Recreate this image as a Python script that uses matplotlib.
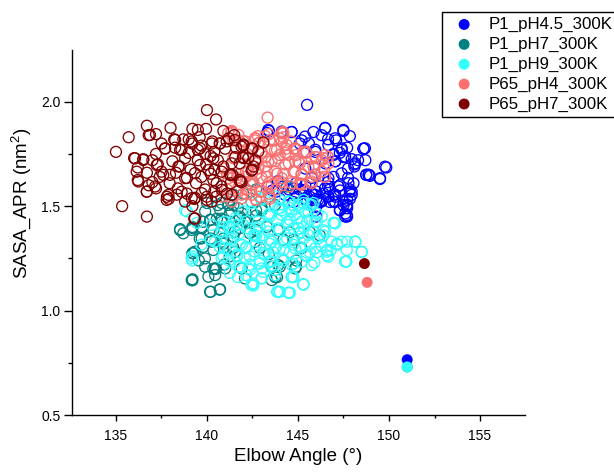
import matplotlib
matplotlib.use("Agg")
import matplotlib.pyplot as plt
from matplotlib.ticker import MultipleLocator

plt.rcParams["font.family"] = ["Liberation Sans", "DejaVu Sans"]
plt.rcParams["mathtext.fontset"] = "custom"
plt.rcParams["mathtext.rm"] = "Liberation Sans"
plt.rcParams["mathtext.it"] = "Liberation Sans:italic"

# ---- data: (elbow angle in degrees, SASA_APR in nm^2) per frame ----
p1_ph45_pts = [
    (145.5, 1.985), (143.4, 1.86), (144.65, 1.855), (145.85, 1.855), (146.5, 1.875),
    (146.3, 1.84), (146.65, 1.82), (147.1, 1.815), (147.5, 1.86), (147.85, 1.835),
    (145.2, 1.815), (145.6, 1.80), (145.95, 1.77), (147.4, 1.77), (147.7, 1.78),
    (148.6, 1.775), (147.5, 1.735), (147.95, 1.725), (148.3, 1.72), (148.7, 1.72),
    (148.1, 1.70), (147.05, 1.715), (146.95, 1.75), (146.5, 1.705), (147.75, 1.68),
    (149.85, 1.685), (148.75, 1.65), (148.9, 1.65), (149.5, 1.63), (146.95, 1.64),
    (147.75, 1.635), (145.4, 1.68), (145.75, 1.635), (145.4, 1.60), (146.2, 1.595),
    (146.65, 1.615), (147.3, 1.60), (147.85, 1.57), (147.05, 1.555), (146.4, 1.56),
    (145.75, 1.56), (145.1, 1.58), (144.75, 1.52), (145.5, 1.52), (146.1, 1.53),
    (146.75, 1.52), (147.5, 1.52), (147.3, 1.575), (147.95, 1.57), (147.7, 1.53),
    (147.7, 1.49), (147.6, 1.45), (146.95, 1.555), (146.65, 1.595), (146.0, 1.535),
    (146.0, 1.495), (145.5, 1.53), (144.95, 1.545), (144.5, 1.58), (144.0, 1.535),
    (143.3, 1.85), (144.65, 1.855), (145.1, 1.80), (145.45, 1.76), (145.95, 1.76),
    (146.95, 1.745), (147.3, 1.755), (147.05, 1.715), (148.1, 1.69), (148.6, 1.775),
    (148.75, 1.65), (148.95, 1.645), (147.7, 1.50), (147.7, 1.45), (147.3, 1.48),
    (146.3, 1.53), (145.65, 1.545), (145.95, 1.48), (146.0, 1.45), (147.05, 1.52),
    (147.85, 1.535), (144.9, 1.61), (145.3, 1.57), (146.0, 1.57), (146.75, 1.58),
    (147.05, 1.545), (146.2, 1.52), (147.5, 1.505), (147.6, 1.465), (147.85, 1.58),
    (148.05, 1.61), (144.75, 1.585), (144.2, 1.595), (143.6, 1.575), (143.9, 1.62),
    (143.37, 1.865), (144.11, 1.857), (145.39, 1.833), (146.49, 1.873), (147.04, 1.825),
    (147.49, 1.865), (148.68, 1.777), (149.78, 1.689), (149.51, 1.634), (148.87, 1.65),
    (148.14, 1.705), (147.59, 1.737), (147.4, 1.657), (147.77, 1.61), (147.95, 1.554),
    (147.68, 1.506), (147.68, 1.458), (147.31, 1.482), (146.95, 1.522), (146.49, 1.586),
    (146.67, 1.546), (145.94, 1.554), (146.3, 1.522), (145.75, 1.506), (145.39, 1.538),
    (145.39, 1.578), (144.84, 1.554), (144.29, 1.554), (143.83, 1.57), (143.37, 1.594),
    (146.67, 1.634), (145.94, 1.65), (147.22, 1.594), (147.4, 1.777), (146.67, 1.793),
]

p1_ph7_pts = [
    (138.52, 1.39), (138.7, 1.37), (139.2, 1.395), (139.7, 1.40), (139.9, 1.475),
    (140.6, 1.505), (140.2, 1.435), (140.8, 1.425), (139.6, 1.345), (140.2, 1.345),
    (140.7, 1.37), (141.25, 1.40), (139.8, 1.305), (140.35, 1.29), (140.9, 1.32),
    (141.45, 1.355), (139.2, 1.275), (139.55, 1.24), (139.9, 1.21), (140.5, 1.20),
    (140.95, 1.22), (140.45, 1.17), (141.25, 1.26), (141.45, 1.30), (139.2, 1.145),
    (140.2, 1.09), (140.7, 1.10), (141.8, 1.395), (141.8, 1.44), (141.25, 1.465),
    (141.45, 1.505), (140.0, 1.515), (140.9, 1.345), (138.52, 1.385), (139.25, 1.275),
    (140.35, 1.20), (139.2, 1.15), (140.55, 1.44), (141.35, 1.475), (141.8, 1.45),
    (142.15, 1.435), (142.7, 1.48), (143.0, 1.49), (142.35, 1.37), (143.3, 1.40),
    (143.9, 1.385), (144.2, 1.34), (143.55, 1.21), (143.85, 1.16), (144.2, 1.24),
    (144.9, 1.24), (144.75, 1.34), (144.55, 1.375), (142.0, 1.56), (141.45, 1.555),
    (140.8, 1.515), (142.7, 1.58), (141.25, 1.53), (143.0, 1.48), (142.7, 1.455),
    (144.0, 1.21), (143.75, 1.16), (144.9, 1.21), (145.65, 1.375), (146.2, 1.36),
    (139.2, 1.40), (139.8, 1.425), (140.35, 1.385), (140.8, 1.44), (141.7, 1.49),
    (142.45, 1.52), (142.1, 1.425), (142.7, 1.385), (142.9, 1.30), (143.4, 1.27),
    (139.16, 1.386), (139.71, 1.394), (140.17, 1.434), (140.72, 1.482), (141.18, 1.506),
    (141.91, 1.466), (142.27, 1.426), (143.01, 1.49), (143.74, 1.506), (144.84, 1.562),
    (144.38, 1.594), (142.46, 1.618), (139.71, 1.346), (140.26, 1.33), (140.81, 1.33),
    (139.34, 1.282), (139.89, 1.25), (140.44, 1.202), (140.08, 1.162), (141.0, 1.202),
    (139.16, 1.146), (140.17, 1.09), (140.72, 1.102), (141.54, 1.282), (141.91, 1.202),
    (142.09, 1.154), (143.56, 1.146), (143.92, 1.218), (142.64, 1.33), (141.54, 1.378),
    (145.2, 1.298), (144.84, 1.202),
]

p1_ph9_pts = [
    (148.15, 1.33), (147.7, 1.33), (147.15, 1.315), (147.65, 1.235), (146.8, 1.29),
    (146.6, 1.265), (146.05, 1.28), (145.65, 1.32), (145.3, 1.345), (144.75, 1.315),
    (144.2, 1.29), (143.65, 1.28), (143.1, 1.275), (142.7, 1.315), (143.45, 1.32),
    (144.4, 1.345), (145.1, 1.375), (145.85, 1.375), (146.4, 1.36), (147.0, 1.42),
    (146.05, 1.425), (145.5, 1.425), (144.95, 1.44), (144.4, 1.425), (143.85, 1.435),
    (143.3, 1.41), (142.7, 1.395), (143.1, 1.36), (144.0, 1.385), (144.75, 1.395),
    (145.4, 1.475), (145.65, 1.505), (145.1, 1.495), (144.55, 1.49), (144.0, 1.49),
    (143.45, 1.465), (144.55, 1.52), (144.0, 1.53), (145.3, 1.53), (142.9, 1.24),
    (143.45, 1.235), (144.2, 1.24), (144.75, 1.225), (145.5, 1.26), (143.1, 1.185),
    (143.75, 1.195), (142.45, 1.125), (143.0, 1.155), (144.65, 1.16), (145.3, 1.125),
    (143.85, 1.09), (144.5, 1.085), (142.45, 1.515), (143.0, 1.53), (138.9, 1.475),
    (139.45, 1.42), (140.2, 1.34), (139.7, 1.315), (139.2, 1.24), (140.7, 1.305),
    (140.9, 1.40), (141.1, 1.34), (141.35, 1.375), (141.65, 1.435), (142.0, 1.475),
    (141.2, 1.29), (141.65, 1.26), (141.8, 1.21), (142.15, 1.305), (142.35, 1.195),
    (142.55, 1.13), (142.35, 1.26), (142.7, 1.355), (144.0, 1.09), (144.55, 1.085),
    (145.3, 1.125), (147.65, 1.235), (148.15, 1.33), (148.5, 1.28), (147.15, 1.32),
    (146.6, 1.29), (146.95, 1.42), (146.4, 1.385), (145.65, 1.28), (144.75, 1.16),
    (143.65, 1.21), (144.1, 1.48), (144.75, 1.505), (145.3, 1.515), (145.85, 1.515),
    (146.05, 1.465), (145.65, 1.435), (143.45, 1.45), (142.9, 1.40), (143.45, 1.34),
    (143.8, 1.305), (144.55, 1.28), (145.1, 1.305), (145.1, 1.37), (144.55, 1.435),
    (145.3, 1.40), (146.05, 1.355), (143.1, 1.275), (142.9, 1.225), (141.7, 1.16),
    (141.25, 1.18), (138.8, 1.48), (139.2, 1.26), (140.9, 1.26), (141.2, 1.24),
    (140.95, 1.425), (141.25, 1.395), (141.65, 1.41), (142.0, 1.41), (141.8, 1.32),
    (141.65, 1.265), (142.15, 1.30), (141.8, 1.21), (142.35, 1.22), (142.15, 1.17),
    (142.55, 1.12), (142.55, 1.36), (141.35, 1.345), (146.3, 1.31), (145.9, 1.23),
    (141.18, 1.402), (141.73, 1.362), (142.27, 1.394), (142.82, 1.426), (143.37, 1.458),
    (143.92, 1.49), (144.47, 1.522), (145.02, 1.506), (145.57, 1.474), (145.94, 1.426),
    (146.49, 1.378), (147.04, 1.418), (147.4, 1.33), (148.14, 1.33), (148.5, 1.282),
    (147.59, 1.234), (146.67, 1.258), (145.94, 1.298), (145.39, 1.266), (144.84, 1.298),
    (144.29, 1.33), (143.74, 1.298), (143.19, 1.266), (142.64, 1.282), (142.09, 1.25),
    (141.54, 1.234), (141.0, 1.298), (140.81, 1.25), (140.44, 1.33), (140.26, 1.41),
    (140.81, 1.378), (139.16, 1.25), (142.27, 1.202), (143.01, 1.202), (143.56, 1.234),
    (144.11, 1.25), (144.66, 1.218), (145.2, 1.234), (145.75, 1.218), (143.74, 1.17),
    (143.01, 1.154), (142.46, 1.122), (143.92, 1.09), (144.47, 1.086), (145.29, 1.126),
    (144.66, 1.162), (143.37, 1.378), (143.92, 1.394), (144.47, 1.41), (145.02, 1.394),
    (145.57, 1.362), (146.12, 1.346), (143.01, 1.346), (143.56, 1.33), (144.11, 1.458),
    (144.84, 1.458), (145.2, 1.426), (142.64, 1.362), (141.91, 1.314), (141.54, 1.442),
    (142.46, 1.474), (143.01, 1.538), (143.74, 1.546), (144.66, 1.474), (145.75, 1.506),
    (146.3, 1.45), (146.85, 1.33), (147.68, 1.29), (146.58, 1.282),
]

p65_ph4_pts = [
    (143.33, 1.924), (143.4, 1.845), (144.15, 1.855), (144.2, 1.83), (142.65, 1.825),
    (142.9, 1.805), (143.65, 1.815), (142.1, 1.81), (144.35, 1.775), (144.8, 1.775),
    (144.9, 1.745), (145.45, 1.755), (146.0, 1.735), (146.65, 1.735), (146.3, 1.72),
    (143.55, 1.77), (144.0, 1.745), (143.2, 1.735), (143.55, 1.715), (144.5, 1.705),
    (145.1, 1.705), (145.9, 1.68), (146.45, 1.68), (146.45, 1.64), (145.75, 1.64),
    (145.2, 1.655), (144.75, 1.665), (144.2, 1.655), (143.3, 1.665), (142.7, 1.655),
    (142.15, 1.665), (142.55, 1.615), (143.4, 1.61), (144.1, 1.60), (145.1, 1.605),
    (145.75, 1.61), (142.15, 1.58), (142.9, 1.57), (143.45, 1.545), (142.7, 1.53),
    (141.17, 1.85), (141.45, 1.815), (142.0, 1.81), (142.35, 1.775), (142.8, 1.80),
    (143.45, 1.815), (141.45, 1.73), (141.1, 1.655), (141.65, 1.635), (142.35, 1.61),
    (142.15, 1.56), (141.35, 1.545), (141.7, 1.585), (143.4, 1.56), (143.45, 1.535),
    (142.9, 1.545), (144.1, 1.615), (144.55, 1.595), (145.1, 1.61), (145.95, 1.65),
    (146.5, 1.64), (145.85, 1.69), (146.4, 1.73), (145.95, 1.735), (145.45, 1.76),
    (144.9, 1.77), (144.3, 1.755), (143.85, 1.77), (143.75, 1.715), (144.3, 1.70),
    (144.85, 1.715), (143.2, 1.69), (142.65, 1.715), (143.3, 1.64), (143.85, 1.655),
    (143.3, 1.595), (144.2, 1.85), (144.0, 1.825), (143.2, 1.835), (142.8, 1.835),
    (141.35, 1.85), (142.65, 1.815), (142.7, 1.705), (141.9, 1.555), (142.15, 1.58),
    (142.7, 1.53), (141.1, 1.58), (141.45, 1.64), (141.35, 1.86), (141.8, 1.81),
    (142.15, 1.64), (143.0, 1.76), (142.2, 1.75), (144.6, 1.81), (143.8, 1.58),
    (141.36, 1.857), (141.73, 1.841), (142.64, 1.825), (144.11, 1.849), (144.11, 1.809),
    (144.84, 1.777), (145.29, 1.761), (145.75, 1.729), (146.49, 1.745), (146.67, 1.705),
    (146.3, 1.665), (145.75, 1.618), (145.2, 1.602), (144.66, 1.61), (144.11, 1.634),
    (143.56, 1.602), (143.01, 1.57), (142.46, 1.554), (141.91, 1.538), (141.36, 1.522),
    (140.81, 1.546), (140.9, 1.681), (141.18, 1.634), (141.73, 1.65), (142.27, 1.665),
    (142.82, 1.681), (143.37, 1.713), (143.92, 1.729), (144.47, 1.745), (145.02, 1.713),
    (145.57, 1.689), (143.74, 1.665), (144.84, 1.665), (145.2, 1.65), (143.01, 1.634),
    (142.46, 1.602), (141.73, 1.57), (142.09, 1.745), (141.54, 1.729), (143.01, 1.753),
    (143.74, 1.769), (144.38, 1.793),
]

p65_ph7_pts = [
    (140.0, 1.96), (140.5, 1.915), (136.7, 1.885), (138.0, 1.875), (135.7, 1.83),
    (136.8, 1.84), (137.2, 1.845), (139.2, 1.87), (139.5, 1.865), (139.95, 1.87),
    (138.2, 1.82), (138.7, 1.82), (139.2, 1.80), (139.6, 1.83), (140.3, 1.81),
    (140.7, 1.80), (141.2, 1.825), (141.5, 1.84), (142.0, 1.795), (136.0, 1.73),
    (136.5, 1.725), (137.2, 1.75), (137.7, 1.775), (138.25, 1.78), (138.6, 1.77),
    (139.0, 1.755), (139.5, 1.77), (139.9, 1.75), (140.4, 1.76), (141.0, 1.775),
    (141.55, 1.735), (141.97, 1.735), (136.2, 1.685), (136.7, 1.66), (137.3, 1.70),
    (137.6, 1.65), (138.1, 1.715), (138.5, 1.69), (139.1, 1.675), (139.5, 1.72),
    (139.95, 1.70), (140.4, 1.675), (140.9, 1.69), (141.3, 1.65), (141.8, 1.705),
    (136.2, 1.625), (136.8, 1.60), (137.4, 1.64), (137.95, 1.61), (138.4, 1.585),
    (138.9, 1.635), (139.4, 1.61), (139.9, 1.58), (140.35, 1.625), (140.8, 1.595),
    (141.3, 1.61), (136.7, 1.57), (137.8, 1.545), (138.35, 1.555), (139.3, 1.535),
    (140.0, 1.545), (140.4, 1.57), (137.9, 1.535), (139.35, 1.54), (139.2, 1.50),
    (140.0, 1.53), (140.5, 1.545), (137.2, 1.585), (142.0, 1.79), (142.5, 1.775),
    (143.1, 1.805), (142.0, 1.73), (142.65, 1.72), (142.45, 1.67), (141.9, 1.615),
    (141.8, 1.625), (141.4, 1.65), (142.5, 1.675), (135.0, 1.76), (135.34, 1.50),
    (136.7, 1.45), (139.3, 1.44), (138.8, 1.73), (139.7, 1.79), (140.2, 1.74),
    (138.3, 1.66), (139.7, 1.64), (137.0, 1.72), (140.6, 1.72), (141.1, 1.56),
    (138.9, 1.56), (137.5, 1.80), (140.9, 1.86), (141.6, 1.78), (139.0, 1.82),
    (140.2, 1.655), (137.0, 1.615),
    (137.7, 1.777), (138.25, 1.817), (138.52, 1.769), (139.16, 1.81), (139.62, 1.777),
    (140.26, 1.80), (140.72, 1.80), (141.08, 1.81), (141.54, 1.817), (141.9, 1.785),
    (142.46, 1.777), (142.82, 1.762), (136.05, 1.729), (136.5, 1.721), (137.24, 1.697),
    (137.51, 1.665), (137.97, 1.65), (138.43, 1.69), (138.8, 1.634), (139.34, 1.658),
    (139.62, 1.697), (140.08, 1.673), (140.35, 1.729), (140.81, 1.665), (141.27, 1.65),
    (141.82, 1.618), (141.36, 1.705), (142.27, 1.729), (142.55, 1.69), (136.69, 1.569),
    (137.15, 1.594), (137.88, 1.554), (138.61, 1.569), (139.16, 1.538), (139.71, 1.562),
    (140.26, 1.522), (138.8, 1.522), (139.34, 1.442), (140.81, 1.578), (141.36, 1.554),
    (136.23, 1.618), (136.14, 1.665), (137.79, 1.53), (140.53, 1.61), (136.87, 1.841),
]

# ---- reference structures (filled markers) ----
series_names = ["P1_pH4.5_300K", "P1_pH7_300K", "P1_pH9_300K", "P65_pH4_300K", "P65_pH7_300K"]
series_colors = ["#0000FF", "#008080", "#33FFFF", "#FA7070", "#800000"]
ref_angle = [151.0, 151.0, 151.0, 148.8, 148.65]
ref_sasa = [0.765, 0.73, 0.73, 1.135, 1.225]

all_pts = [p1_ph45_pts, p1_ph7_pts, p1_ph9_pts, p65_ph4_pts, p65_ph7_pts]

fig = plt.figure(figsize=(6.14, 4.73), dpi=100)
ax = fig.add_axes([0.1168, 0.1226, 0.7382, 0.7714])

for pts, col in zip(all_pts, series_colors):
    xs = [p[0] for p in pts]
    ys = [p[1] for p in pts]
    ax.scatter(xs, ys, s=62, facecolors="none", edgecolors=col, linewidths=0.95, zorder=2)

handles = []
for name, col, xa, ya in zip(series_names, series_colors, ref_angle, ref_sasa):
    h = ax.scatter([xa], [ya], s=62, color=col, edgecolors="none", label=name, zorder=3)
    handles.append(h)

ax.set_xlim(132.57, 157.47)
ax.set_ylim(0.5, 2.247)
ax.xaxis.set_major_locator(MultipleLocator(5))
ax.xaxis.set_minor_locator(MultipleLocator(2.5))
ax.yaxis.set_major_locator(MultipleLocator(0.5))
ax.yaxis.set_minor_locator(MultipleLocator(0.25))
ax.set_yticks([0.5, 1.0, 1.5, 2.0])
ax.set_yticklabels(["0.5", "1.0", "1.5", "2.0"])

for side in ("top", "right"):
    ax.spines[side].set_visible(False)
for side in ("left", "bottom"):
    ax.spines[side].set_linewidth(1.0)

ax.tick_params(axis="x", which="major", direction="out", length=4, width=1, pad=6, labelsize=10)
ax.tick_params(axis="x", which="minor", direction="out", length=2.5, width=1)
ax.tick_params(axis="y", which="major", direction="out", length=5.5, width=1, pad=2.5, labelsize=10)
ax.tick_params(axis="y", which="minor", direction="out", length=3, width=1)

ax.set_xlabel("Elbow Angle (°)", fontsize=13.5, labelpad=4)
ax.set_ylabel("SASA_APR (nm$^2$)", fontsize=13.5)
ax.yaxis.set_label_coords(-0.085, 0.58)

fig.legend(handles=handles, loc="upper left", bbox_to_anchor=(0.72, 0.975),
           borderaxespad=0, frameon=True, fancybox=False, edgecolor="black",
           framealpha=1, fontsize=12.2, handletextpad=0.45, labelspacing=0.28,
           borderpad=0.3, scatterpoints=1)

fig.savefig("out.png", dpi=100)
